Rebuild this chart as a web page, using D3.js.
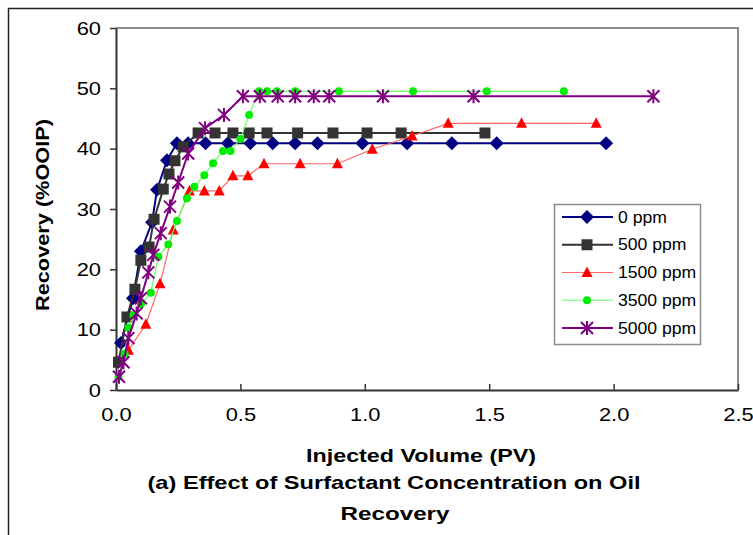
<!DOCTYPE html>
<html>
<head>
<meta charset="utf-8">
<script src="https://cdn.jsdelivr.net/npm/d3@7"></script>
<style>
  body { margin: 0; background: #fff; }
  svg { display: block; }
</style>
</head>
<body>
<div id="container"></div>
<script>
// svg size
const width = 753;
const height = 535;

// plot area (pixels)
const plotLeft = 116;
const plotRight = 738;
const plotTop = 28;
const plotBottom = 390;

const fontFamily = "Arial, 'Liberation Sans', Helvetica, sans-serif";
const textStretch = 1.15; // reference text is a bit wider than plain Arial

// data
const seriesNames = ["0 ppm", "500 ppm", "1500 ppm", "3500 ppm", "5000 ppm"];

const pv0 = [0.02, 0.068, 0.10, 0.145, 0.165, 0.205, 0.245, 0.29, 0.36, 0.45, 0.54, 0.63, 0.72, 0.81, 0.99, 1.17, 1.35, 1.53, 1.97];
const rec0 = [7.8, 15.2, 23.0, 27.8, 33.2, 38.1, 40.9, 40.9, 40.9, 40.9, 40.9, 40.9, 40.9, 40.9, 40.9, 40.9, 40.9, 40.9, 40.9];

const pv500 = [0.01, 0.044, 0.076, 0.10, 0.133, 0.153, 0.19, 0.213, 0.237, 0.27, 0.33, 0.398, 0.47, 0.535, 0.607, 0.73, 0.872, 1.009, 1.146, 1.483];
const rec500 = [4.6, 12.1, 16.7, 21.5, 23.7, 28.3, 33.3, 35.8, 38.0, 40.3, 42.6, 42.6, 42.6, 42.6, 42.6, 42.6, 42.6, 42.6, 42.6, 42.6];

const pv1500 = [0.05, 0.12, 0.177, 0.23, 0.295, 0.355, 0.415, 0.47, 0.53, 0.595, 0.74, 0.89, 1.03, 1.19, 1.335, 1.63, 1.93];
const rec1500 = [6.6, 10.9, 17.6, 26.5, 33.0, 33.0, 33.0, 35.5, 35.5, 37.5, 37.5, 37.5, 39.9, 42.1, 44.2, 44.2, 44.2];

const pv3500 = [0.01, 0.035, 0.05, 0.07, 0.10, 0.14, 0.17, 0.21, 0.245, 0.285, 0.315, 0.355, 0.39, 0.43, 0.46, 0.50, 0.535, 0.575, 0.607, 0.647, 0.72, 0.896, 1.194, 1.49, 1.80];
const rec3500 = [2.2, 6.0, 10.3, 12.4, 14.2, 16.1, 22.1, 24.1, 28.0, 31.8, 33.7, 35.6, 37.6, 39.6, 39.6, 41.6, 45.6, 49.5, 49.5, 49.5, 49.5, 49.5, 49.5, 49.5, 49.5];

const pv5000 = [0.012, 0.03, 0.05, 0.083, 0.10, 0.13, 0.15, 0.18, 0.217, 0.25, 0.29, 0.358, 0.434, 0.51, 0.578, 0.65, 0.72, 0.795, 0.857, 1.073, 1.437, 2.16];
const rec5000 = [2.2, 4.6, 8.6, 12.7, 15.2, 19.5, 22.4, 26.0, 30.4, 34.4, 39.2, 43.4, 45.6, 48.7, 48.7, 48.7, 48.7, 48.7, 48.7, 48.7, 48.7, 48.7];

const xTicks = [0, 0.5, 1.0, 1.5, 2.0, 2.5];
const yTicks = [0, 10, 20, 30, 40, 50, 60];

// styles per series
const styles = [
  { line: "#000080", mark: "#000080", lw: 2, shape: "diamond" },
  { line: "#333333", mark: "#333333", lw: 2, shape: "square" },
  { line: "#ff6666", mark: "#ff0000", lw: 1.2, shape: "triangle" },
  { line: "#66ff66", mark: "#00ee00", lw: 1.2, shape: "circle" },
  { line: "#800080", mark: "#800080", lw: 2, shape: "star" }
];

const series = [
  [pv0, rec0], [pv500, rec500], [pv1500, rec1500], [pv3500, rec3500], [pv5000, rec5000]
].map((s, i) => ({
  name: seriesNames[i],
  style: styles[i],
  points: s[0].map((x, j) => ({ x: x, y: s[1][j] }))
}));

const svg = d3.select("#container").append("svg")
  .attr("width", width)
  .attr("height", height);

// widen a text node by a factor, or to a fixed length
function stretch(sel, factor, fixed) {
  sel.each(function () {
    const w = fixed || this.getComputedTextLength() * factor;
    d3.select(this)
      .attr("textLength", w)
      .attr("lengthAdjust", "spacingAndGlyphs");
  });
}

// outer chart frame
svg.append("path")
  .attr("d", `M8.5,${height} V8.5 H${width}`)
  .attr("fill", "none")
  .attr("stroke", "#222")
  .attr("stroke-width", 1.5);

const x = d3.scaleLinear().domain([0, 2.5]).range([plotLeft, plotRight]);
const y = d3.scaleLinear().domain([0, 60]).range([plotBottom, plotTop]);

// plot border (top and right, grey)
svg.append("path")
  .attr("d", `M${plotLeft},${plotTop} H${plotRight} V${plotBottom}`)
  .attr("fill", "none")
  .attr("stroke", "#8c8c8c")
  .attr("stroke-width", 2);

// axes
const xAxis = svg.append("g")
  .attr("transform", `translate(0,${plotBottom})`)
  .call(d3.axisBottom(x).tickValues(xTicks).tickFormat(d3.format(".1f")).tickSizeInner(6).tickSizeOuter(0).tickPadding(12));

const yAxis = svg.append("g")
  .attr("transform", `translate(${plotLeft},0)`)
  .call(d3.axisLeft(y).tickValues(yTicks).tickSizeInner(6).tickSizeOuter(0).tickPadding(9));

[xAxis, yAxis].forEach(a => {
  a.select(".domain").attr("stroke", "#333").attr("stroke-width", 2);
  a.selectAll(".tick line").attr("stroke", "#333").attr("stroke-width", 1.5);
  a.selectAll(".tick text")
    .attr("fill", "#000")
    .attr("font-family", fontFamily)
    .attr("font-size", 19)
    .call(stretch, textStretch);
});
// x ticks point upward into the plot area in the reference
xAxis.selectAll(".tick line").attr("y2", -6);
yAxis.selectAll(".tick line").attr("x2", -6);

// lines
const line = d3.line().x(d => x(d.x)).y(d => y(d.y));

function markerPath(shape) {
  switch (shape) {
    case "diamond": return "M0,-7 L7,0 L0,7 L-7,0 Z";
    case "square": return "M-5.5,-5.5 H5.5 V5.5 H-5.5 Z";
    case "triangle": return "M0,-6 L5.5,4.5 L-5.5,4.5 Z";
    case "circle": return d3.symbol(d3.symbolCircle, 50)();
    case "star": return "M0,-7 V7 M-6,-6 L6,6 M-6,6 L6,-6";
  }
}

function drawMarker(g, st) {
  const p = g.append("path").attr("d", markerPath(st.shape));
  if (st.shape === "star") {
    p.attr("fill", "none").attr("stroke", st.mark).attr("stroke-width", 2);
  } else {
    p.attr("fill", st.mark).attr("stroke", "none");
  }
}

const seriesG = svg.selectAll("g.series")
  .data(series)
  .join("g")
  .attr("class", "series");

seriesG.append("path")
  .attr("d", d => line(d.points))
  .attr("fill", "none")
  .attr("stroke", d => d.style.line)
  .attr("stroke-width", d => d.style.lw);

seriesG.each(function (d) {
  const g = d3.select(this);
  d.points.forEach(p => {
    const m = g.append("g").attr("transform", `translate(${x(p.x)},${y(p.y)})`);
    drawMarker(m, d.style);
  });
});

// legend
const legend = svg.append("g");
legend.append("rect")
  .attr("x", 554.5).attr("y", 204.5)
  .attr("width", 146).attr("height", 140)
  .attr("fill", "#fff")
  .attr("stroke", "#8c8c8c")
  .attr("stroke-width", 1.5);

const legendY = d3.scalePoint().domain(seriesNames).range([217, 328]);

series.forEach(s => {
  const ly = legendY(s.name);
  const lg = legend.append("g");
  lg.append("line")
    .attr("x1", 562).attr("x2", 613)
    .attr("y1", ly).attr("y2", ly)
    .attr("stroke", s.style.line)
    .attr("stroke-width", s.style.lw);
  drawMarker(lg.append("g").attr("transform", `translate(587,${ly})`), s.style);
  lg.append("text")
    .attr("x", 618).attr("y", ly)
    .attr("dy", "0.35em")
    .attr("font-family", fontFamily)
    .attr("font-size", 16)
    .attr("fill", "#000")
    .text(s.name)
    .call(stretch, 1.1);
});

// axis titles
svg.append("text")
  .attr("x", 421).attr("y", 462)
  .attr("text-anchor", "middle")
  .attr("font-family", fontFamily)
  .attr("font-weight", "bold")
  .attr("font-size", 18)
  .text("Injected Volume (PV)")
  .call(stretch, 1, 230);

svg.append("text")
  .attr("transform", `translate(49,215) rotate(-90)`)
  .attr("text-anchor", "middle")
  .attr("font-family", fontFamily)
  .attr("font-weight", "bold")
  .attr("font-size", 19)
  .text("Recovery (%OOIP)")
  .call(stretch, 1, 192);

// caption
svg.append("text")
  .attr("x", 394).attr("y", 489)
  .attr("text-anchor", "middle")
  .attr("font-family", fontFamily)
  .attr("font-weight", "bold")
  .attr("font-size", 19)
  .text("(a) Effect of Surfactant Concentration on Oil")
  .call(stretch, 1, 493);

svg.append("text")
  .attr("x", 395).attr("y", 520)
  .attr("text-anchor", "middle")
  .attr("font-family", fontFamily)
  .attr("font-weight", "bold")
  .attr("font-size", 19)
  .text("Recovery")
  .call(stretch, 1, 109);
</script>
</body>
</html>
